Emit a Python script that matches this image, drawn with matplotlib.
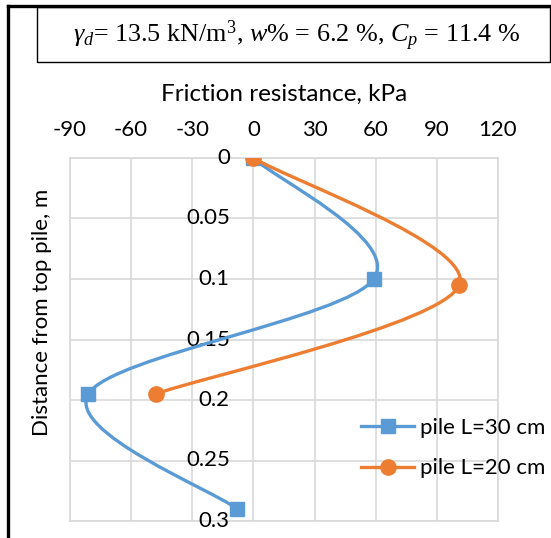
import numpy as np
import matplotlib
matplotlib.use("Agg")
import matplotlib.pyplot as plt
from matplotlib.path import Path
from matplotlib.patches import PathPatch, Rectangle
from matplotlib.lines import Line2D

# --- data ---
friction_30 = [0, 59, -81, -8]        # kPa, pile L=30 cm
depth_30 = [0, 0.1, 0.195, 0.29]      # m
friction_20 = [0, 101, -48]           # kPa, pile L=20 cm
depth_20 = [0, 0.105, 0.195]          # m

x_ticks = [-90, -60, -30, 0, 30, 60, 90, 120]
y_ticks = [0, 0.05, 0.1, 0.15, 0.2, 0.25, 0.3]
y_tick_labels = ["0", "0.05", "0.1", "0.15", "0.2", "0.25", "0.3"]

BLUE = "#5B9BD5"
ORANGE = "#ED7D31"
GRID = "#D9D9D9"

plt.rcParams["font.family"] = ["Lato", "DejaVu Sans"]
plt.rcParams["axes.unicode_minus"] = False
plt.rcParams["mathtext.fontset"] = "custom"
plt.rcParams["mathtext.rm"] = "Liberation Serif"
plt.rcParams["mathtext.it"] = "Liberation Serif:italic"


def smooth_path(xs, ys, k=1 / 6):
    """Excel-like smoothed line: cubic Bezier through the points."""
    pts = np.column_stack([xs, ys]).astype(float)
    n = len(pts)
    verts = [pts[0]]
    codes = [Path.MOVETO]
    for i in range(n - 1):
        p_prev = pts[i - 1] if i > 0 else pts[i]
        p_next2 = pts[i + 2] if i + 2 < n else pts[i + 1]
        c1 = pts[i] + (pts[i + 1] - p_prev) * k
        c2 = pts[i + 1] - (p_next2 - pts[i]) * k
        verts += [c1, c2, pts[i + 1]]
        codes += [Path.CURVE4] * 3
    return Path(verts, codes)


W, H = 551, 538
fig = plt.figure(figsize=(W / 100, H / 100), dpi=100)
ax = fig.add_axes([70 / W, 1 - 521 / H, 428 / W, 363 / H])

ax.set_xlim(-90, 120)
ax.set_ylim(0.3, 0)
ax.set_xticks(x_ticks)
ax.set_yticks(y_ticks)
ax.xaxis.tick_top()
ax.xaxis.set_label_position("top")
ax.tick_params(axis="x", length=0, pad=13, labelsize=16)
ax.tick_params(axis="y", length=0, labelleft=False)
ax.grid(True, color=GRID, lw=1.2)
ax.set_axisbelow(True)
for sp in ax.spines.values():
    sp.set_color(GRID)
    sp.set_linewidth(1.2)
ax.set_xlabel("Friction resistance, kPa", fontsize=17.5, labelpad=14)

# y tick labels sit just left of the x=0 line
for v, lab in zip(y_ticks, y_tick_labels):
    ax.annotate(lab, xy=(0, v), xycoords="data", xytext=(-17, 0),
                textcoords="offset points", ha="right", va="center",
                fontsize=16, annotation_clip=False)

fig.text(42 / W, 1 - 312 / H, "Distance from top pile, m", rotation=90,
         ha="center", va="center", fontsize=16)

# curves
ax.add_patch(PathPatch(smooth_path(friction_30, depth_30), fill=False,
                       edgecolor=BLUE, lw=2.4, zorder=3, capstyle="round"))
ax.plot(friction_30, depth_30, ls="none", marker="s", ms=10, color=BLUE, zorder=4)
ax.add_patch(PathPatch(smooth_path(friction_20, depth_20), fill=False,
                       edgecolor=ORANGE, lw=2.4, zorder=5, capstyle="round"))
ax.plot(friction_20, depth_20, ls="none", marker="o", ms=11, color=ORANGE, zorder=6)

handles = [Line2D([], [], color=BLUE, lw=2.4, marker="s", ms=10),
           Line2D([], [], color=ORANGE, lw=2.4, marker="o", ms=11)]
ax.legend(handles, ["pile L=30 cm", "pile L=20 cm"], loc="upper left",
          bbox_to_anchor=(361 / W, 1 - 418 / H), bbox_transform=fig.transFigure,
          frameon=False, fontsize=16, handlelength=2.4, handletextpad=0.25,
          labelspacing=0.92, borderpad=0, borderaxespad=0)

# outer frame and title box
fig.add_artist(Line2D([8 / W, 8 / W], [0, 1 - 5.5 / H], color="black", lw=2.4,
                      transform=fig.transFigure))
fig.add_artist(Line2D([8 / W, 1], [1 - 5.5 / H, 1 - 5.5 / H], color="black", lw=2.4,
                      transform=fig.transFigure))
fig.add_artist(Rectangle((37 / W, 1 - 62 / H), (549.5 - 37) / W, 55 / H,
                         fill=False, edgecolor="black", lw=1.0,
                         transform=fig.transFigure))
fig.text(297 / W, 1 - 36 / H,
         r"$\gamma_d$= 13.5 kN/m$^3$, $w$% = 6.2 %, $C_p$ = 11.4 %",
         family="Liberation Serif", fontsize=18.8, ha="center", va="center")

fig.savefig("out.png", dpi=100)
